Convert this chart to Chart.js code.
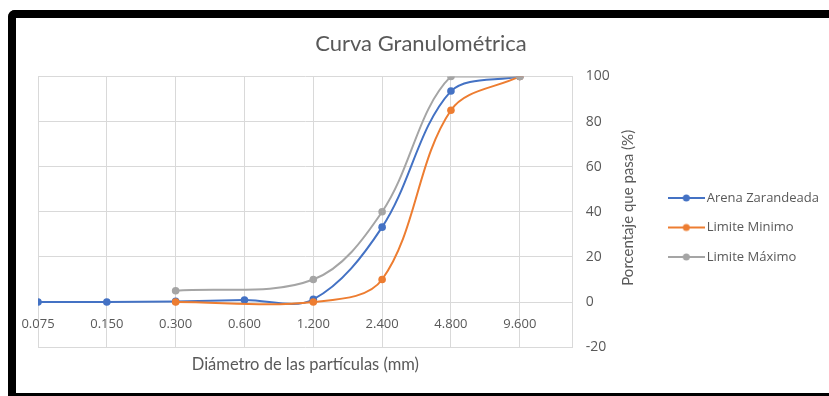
<!DOCTYPE html>
<html lang="es">
<head>
<meta charset="UTF-8">
<title>Curva Granulométrica</title>
<script src="https://cdn.jsdelivr.net/npm/chart.js"></script>
<style>
    html, body { margin: 0; padding: 0; background: #fff; overflow: hidden; }
    .marco { position: relative; width: 829px; height: 396px; }
    .borde {
        position: absolute; left: 8px; top: 10px; width: 900px; height: 386px;
        box-sizing: border-box; border-top: 8px solid #000; border-left: 8px solid #000;
        border-bottom: 3px solid #000; border-top-left-radius: 7px; pointer-events: none;
    }
    canvas { position: absolute; left: 0; top: 0; }
</style>
</head>
<body>
<div class="marco">
    <canvas id="grafico" width="829" height="396"></canvas>
    <div class="borde"></div>
</div>
<script>
    // tamices (mm) y porcentaje que pasa
    var diametros = ['0.075', '0.150', '0.300', '0.600', '1.200', '2.400', '4.800', '9.600'];
    var arenaZarandeada = [0, 0, 0.3, 0.9, 1.2, 33.2, 93.5, 100];
    var limiteMinimo = [null, null, 0, null, 0, 10, 85, 100];
    var limiteMaximo = [null, null, 5, null, 10, 40, 100, 100];
    var ticksY = [-20, 0, 20, 40, 60, 80, 100];

    var xMax = 7.77;
    var gris = '#595959';

    function puntos(valores) {
        return valores.map(function (v, i) {
            return v === null ? null : { x: i, y: v };
        }).filter(function (p) { return p; });
    }

    function iconoLeyenda(color) {
        var c = document.createElement('canvas');
        c.width = 37;
        c.height = 10;
        var ctx = c.getContext('2d');
        ctx.strokeStyle = color;
        ctx.lineWidth = 2;
        ctx.beginPath();
        ctx.moveTo(0, 5);
        ctx.lineTo(37, 5);
        ctx.stroke();
        ctx.fillStyle = color;
        ctx.beginPath();
        ctx.arc(18.5, 5, 3.5, 0, Math.PI * 2);
        ctx.fill();
        return c;
    }

    function serie(nombre, valores, color, orden) {
        return {
            label: nombre,
            data: puntos(valores),
            borderColor: color,
            backgroundColor: color,
            pointBackgroundColor: color,
            pointBorderColor: color,
            borderWidth: 2,
            pointRadius: 3.8,
            pointBorderWidth: 0,
            tension: 0.35,
            xAxisID: 'x',
            yAxisID: 'y',
            order: orden
        };
    }

    // titulo del eje Y, leido de abajo hacia arriba como en Excel
    var tituloEjeY = {
        id: 'tituloEjeY',
        afterDraw: function (chart) {
            var ctx = chart.ctx;
            var area = chart.chartArea;
            ctx.save();
            ctx.translate(area.right + 55, (area.top + area.bottom) / 2 - 4);
            ctx.rotate(-Math.PI / 2);
            ctx.font = '15px Lato';
            ctx.fillStyle = gris;
            ctx.textAlign = 'center';
            ctx.textBaseline = 'middle';
            ctx.fillText('Porcentaje que pasa (%)', 0, 0);
            ctx.restore();
        }
    };

    Chart.defaults.font.family = 'Open Sans';
    Chart.defaults.color = gris;

    var grafico = new Chart(document.getElementById('grafico'), {
        type: 'line',
        data: {
            datasets: [
                serie('Arena Zarandeada', arenaZarandeada, '#4472C4', 3),
                serie('Limite Minimo', limiteMinimo, '#ED7D31', 2),
                serie('Limite Máximo', limiteMaximo, '#A5A5A5', 1)
            ]
        },
        options: {
            responsive: false,
            animation: false,
            layout: { padding: { left: 13, right: 0, top: 20, bottom: 21 } },
            plugins: {
                title: {
                    display: true,
                    text: 'Curva Granulométrica',
                    color: gris,
                    font: { family: 'Lato', size: 22, weight: 'normal' },
                    padding: { top: 11, bottom: 19 }
                },
                legend: {
                    position: 'right',
                    title: { display: true, text: '', font: { size: 12 }, padding: { top: 45.6, bottom: 0 } },
                    labels: {
                        usePointStyle: true,
                        pointStyleWidth: 28,
                        padding: 16.5,
                        color: gris,
                        font: { size: 13 },
                        generateLabels: function (chart) {
                            return chart.data.datasets.map(function (ds, i) {
                                return {
                                    text: ds.label,
                                    pointStyle: iconoLeyenda(ds.borderColor),
                                    fillStyle: ds.borderColor,
                                    strokeStyle: ds.borderColor,
                                    lineWidth: 0,
                                    fontColor: gris,
                                    hidden: !chart.isDatasetVisible(i),
                                    datasetIndex: i
                                };
                            });
                        }
                    }
                },
                tooltip: { enabled: false }
            },
            scales: {
                x: {
                    type: 'linear',
                    position: 'bottom',
                    min: 0,
                    max: xMax,
                    afterBuildTicks: function (s) {
                        s.ticks = diametros.map(function (d, i) { return { value: i }; });
                        s.ticks.push({ value: xMax });
                    },
                    ticks: { display: false },
                    grid: { color: '#D9D9D9', drawTicks: false },
                    border: { display: false },
                    title: {
                        display: true,
                        text: 'Diámetro de las partículas (mm)',
                        color: gris,
                        font: { family: 'Lato', size: 16.5 },
                        padding: { top: 8, bottom: 0 }
                    }
                },
                xEtiquetas: {
                    type: 'linear',
                    axis: 'x',
                    position: { y: 0 },
                    min: 0,
                    max: xMax,
                    afterBuildTicks: function (s) {
                        s.ticks = diametros.map(function (d, i) { return { value: i }; });
                    },
                    ticks: {
                        autoSkip: false,
                        maxRotation: 0,
                        padding: 14,
                        color: gris,
                        font: { size: 13 },
                        callback: function (v) { return diametros[v] || ''; }
                    },
                    grid: { display: false, drawTicks: false },
                    border: { display: false }
                },
                // eje vacio: solo deja el margen izquierdo del area de trazado
                xMargen: {
                    type: 'linear',
                    axis: 'x',
                    position: { y: 0 },
                    min: 0,
                    max: xMax,
                    ticks: { padding: 38, callback: function () { return ''; } },
                    grid: { display: false, drawTicks: false },
                    border: { display: false }
                },
                y: {
                    type: 'linear',
                    position: 'right',
                    min: -20,
                    max: 100,
                    afterBuildTicks: function (s) {
                        s.ticks = ticksY.map(function (v) { return { value: v }; });
                    },
                    afterFit: function (s) { s.width = 83; },
                    ticks: { padding: 13, color: gris, font: { size: 14 } },
                    grid: { color: '#D9D9D9', drawTicks: false },
                    border: { display: false }
                }
            }
        },
        plugins: [tituloEjeY]
    });
</script>
</body>
</html>
